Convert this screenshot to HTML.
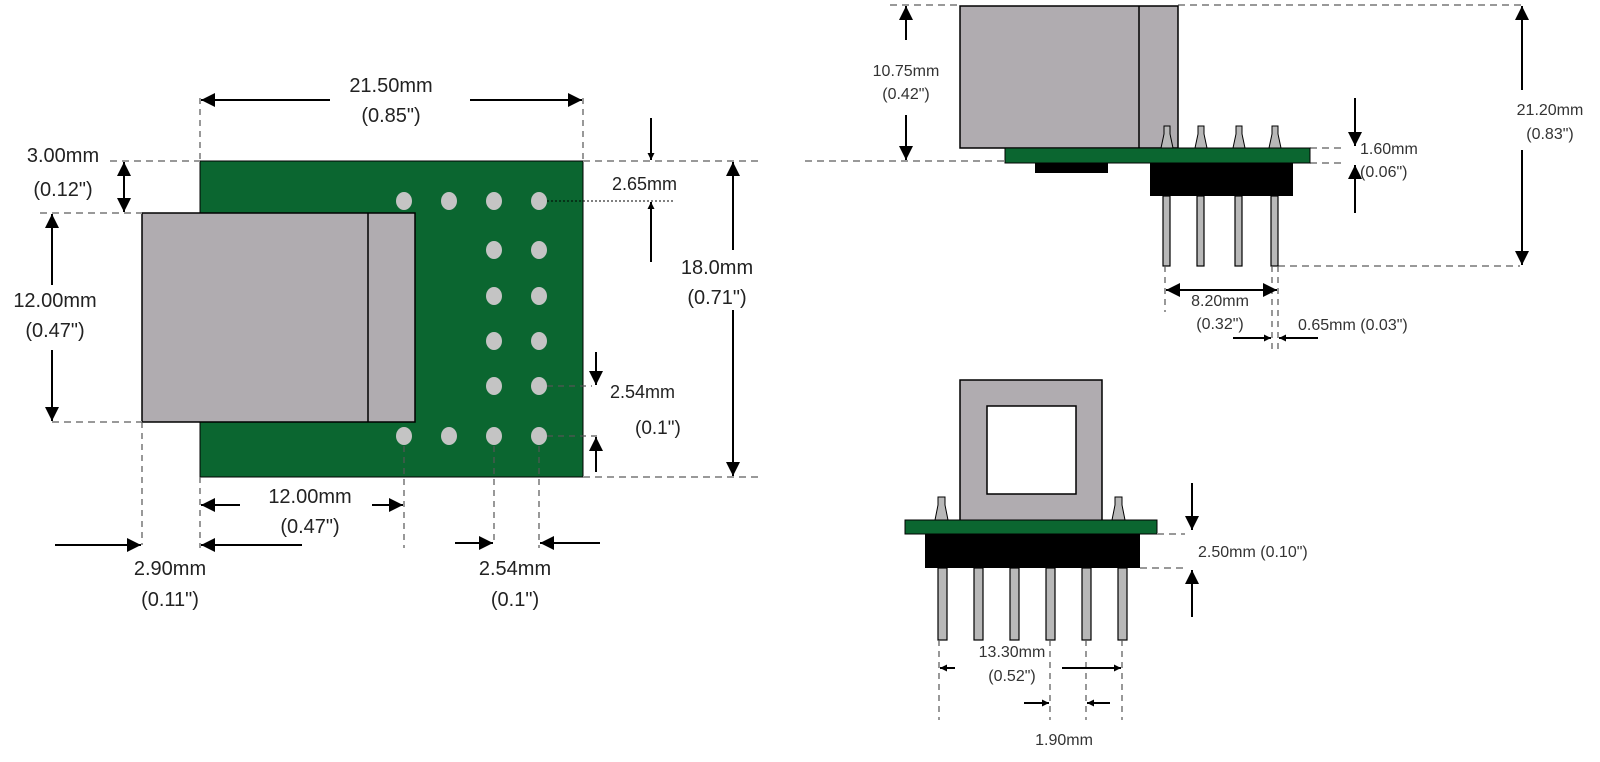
<!DOCTYPE html>
<html><head><meta charset="utf-8"><style>
html,body{margin:0;padding:0;background:#fff;}
svg{display:block;}
text{font-family:"Liberation Sans",Arial,sans-serif;fill:#222;}
.L{font-size:20px;}
.R{font-size:16px;fill:#333;}
.d{stroke:#999;stroke-width:2;stroke-dasharray:7,5;fill:none;}
.dk{stroke:#555;stroke-width:1.2;stroke-dasharray:6,5;fill:none;}
.a{stroke:#000;stroke-width:2;fill:none;}
.pin{fill:#b8b8b8;stroke:#000;stroke-width:1.2;}
</style></head><body>
<svg width="1600" height="762" viewBox="0 0 1600 762" xmlns="http://www.w3.org/2000/svg">
<defs>
<marker id="h" viewBox="0 0 10 10" refX="10" refY="5" markerWidth="7" markerHeight="7" orient="auto-start-reverse" markerUnits="userSpaceOnUse">
<path d="M0,0 L10,5 L0,10 z" fill="#000"/></marker>
<marker id="hb" viewBox="0 0 10 10" refX="10" refY="5" markerWidth="14" markerHeight="14" orient="auto-start-reverse" markerUnits="userSpaceOnUse">
<path d="M0,0 L10,5 L0,10 z" fill="#000"/></marker>
</defs>

<!-- LEFT VIEW -->
<rect x="200" y="161" width="383" height="316" fill="#0b6630" stroke="#000" stroke-width="1"/>
<rect x="142" y="213" width="273" height="209" fill="#b0acb0" stroke="#000" stroke-width="1.5"/>
<line x1="368" y1="213" x2="368" y2="422" stroke="#000" stroke-width="1.5"/>
<g fill="#c4c4c4">
<ellipse cx="404" cy="201" rx="8" ry="9"/><ellipse cx="449" cy="201" rx="8" ry="9"/><ellipse cx="494" cy="201" rx="8" ry="9"/><ellipse cx="539" cy="201" rx="8" ry="9"/>
<ellipse cx="494" cy="250" rx="8" ry="9"/><ellipse cx="539" cy="250" rx="8" ry="9"/>
<ellipse cx="494" cy="296" rx="8" ry="9"/><ellipse cx="539" cy="296" rx="8" ry="9"/>
<ellipse cx="494" cy="341" rx="8" ry="9"/><ellipse cx="539" cy="341" rx="8" ry="9"/>
<ellipse cx="494" cy="386" rx="8" ry="9"/><ellipse cx="539" cy="386" rx="8" ry="9"/>
<ellipse cx="404" cy="436" rx="8" ry="9"/><ellipse cx="449" cy="436" rx="8" ry="9"/><ellipse cx="494" cy="436" rx="8" ry="9"/><ellipse cx="539" cy="436" rx="8" ry="9"/>
</g>
<!-- dashed guides -->
<path class="d" d="M110 161H200 M583 161H760 M40 213H142 M52 422H142 M583 477H760"/>
<path class="dk" d="M200 98V161 M583 98V161 M142 422V545 M200 477V548 M404 446V548 M494 446V540 M539 446V548"/>
<path d="M547 201H675" stroke="#000" stroke-width="1" stroke-dasharray="2,2"/>
<path class="dk" d="M547 386H592 M547 436H600" stroke="#333"/>
<!-- 21.50 -->
<line class="a" x1="330" y1="100" x2="201" y2="100" marker-end="url(#hb)"/>
<line class="a" x1="470" y1="100" x2="582" y2="100" marker-end="url(#hb)"/>
<text class="L" x="391" y="92" text-anchor="middle">21.50mm</text>
<text class="L" x="391" y="122" text-anchor="middle">(0.85")</text>
<!-- 3.00 -->
<line class="a" x1="124" y1="187" x2="124" y2="162" marker-end="url(#hb)"/>
<line class="a" x1="124" y1="187" x2="124" y2="212" marker-end="url(#hb)"/>
<text class="L" x="63" y="162" text-anchor="middle">3.00mm</text>
<text class="L" x="63" y="196" text-anchor="middle">(0.12")</text>
<!-- 12.00 left -->
<line class="a" x1="52" y1="285" x2="52" y2="214" marker-end="url(#hb)"/>
<line class="a" x1="52" y1="350" x2="52" y2="421" marker-end="url(#hb)"/>
<text class="L" x="55" y="307" text-anchor="middle">12.00mm</text>
<text class="L" x="55" y="337" text-anchor="middle">(0.47")</text>
<!-- 2.65 -->
<line class="a" x1="651" y1="118" x2="651" y2="160" marker-end="url(#h)" stroke-width="1.5"/>
<line class="a" x1="651" y1="262" x2="651" y2="202" marker-end="url(#h)" stroke-width="1.5"/>
<text class="L" x="612" y="190" style="font-size:18px">2.65mm</text>
<!-- 18.0 -->
<line class="a" x1="733" y1="250" x2="733" y2="162" marker-end="url(#hb)"/>
<line class="a" x1="733" y1="310" x2="733" y2="476" marker-end="url(#hb)"/>
<text class="L" x="717" y="274" text-anchor="middle">18.0mm</text>
<text class="L" x="717" y="304" text-anchor="middle">(0.71")</text>
<!-- 2.54 right -->
<line class="a" x1="596" y1="352" x2="596" y2="385" marker-end="url(#hb)"/>
<line class="a" x1="596" y1="472" x2="596" y2="437" marker-end="url(#hb)"/>
<text class="L" x="610" y="398" style="font-size:18px">2.54mm</text>
<text class="L" x="635" y="434" style="font-size:19px">(0.1")</text>
<!-- 12.00 bottom -->
<line class="a" x1="240" y1="505" x2="201" y2="505" marker-end="url(#hb)"/>
<line class="a" x1="372" y1="505" x2="403" y2="505" marker-end="url(#hb)"/>
<text class="L" x="310" y="503" text-anchor="middle">12.00mm</text>
<text class="L" x="310" y="533" text-anchor="middle">(0.47")</text>
<!-- 2.90 -->
<line class="a" x1="55" y1="545" x2="141" y2="545" marker-end="url(#hb)"/>
<line class="a" x1="302" y1="545" x2="201" y2="545" marker-end="url(#hb)"/>
<text class="L" x="170" y="575" text-anchor="middle">2.90mm</text>
<text class="L" x="170" y="606" text-anchor="middle">(0.11")</text>
<!-- 2.54 bottom -->
<line class="a" x1="455" y1="543" x2="493" y2="543" marker-end="url(#hb)"/>
<line class="a" x1="600" y1="543" x2="540" y2="543" marker-end="url(#hb)"/>
<text class="L" x="515" y="575" text-anchor="middle">2.54mm</text>
<text class="L" x="515" y="606" text-anchor="middle">(0.1")</text>

<!-- RIGHT TOP VIEW -->
<path class="d" d="M890 5H960 M1178 5H1525 M805 161H1005 M1310 148H1345 M1310 163H1345 M1278 266H1520"/>
<rect x="960" y="6" width="218" height="142" fill="#b0acb0" stroke="#000" stroke-width="1.5"/>
<line x1="1139" y1="6" x2="1139" y2="148" stroke="#000" stroke-width="1.5"/>
<rect x="1005" y="148" width="305" height="15" fill="#0b6630" stroke="#000" stroke-width="1"/>
<rect x="1035" y="163" width="73" height="10" fill="#000"/>
<rect x="1150" y="163" width="143" height="33" fill="#000"/>
<g class="pin">
<rect x="1163" y="196" width="7" height="70"/><rect x="1197" y="196" width="7" height="70"/><rect x="1235" y="196" width="7" height="70"/><rect x="1271" y="196" width="7" height="70"/>
</g>
<g fill="#b8b8b8" stroke="#000" stroke-width="1">
<path d="M1164 126h6v8l3 14h-12l3-14z"/><path d="M1198 126h6v8l3 14h-12l3-14z"/><path d="M1236 126h6v8l3 14h-12l3-14z"/><path d="M1272 126h6v8l3 14h-12l3-14z"/>
</g>
<line class="a" x1="906" y1="40" x2="906" y2="6" marker-end="url(#hb)"/>
<line class="a" x1="906" y1="115" x2="906" y2="160" marker-end="url(#hb)"/>
<text class="R" x="906" y="76" text-anchor="middle">10.75mm</text>
<text class="R" x="906" y="99" text-anchor="middle">(0.42")</text>
<line class="a" x1="1522" y1="90" x2="1522" y2="6" marker-end="url(#hb)"/>
<line class="a" x1="1522" y1="150" x2="1522" y2="265" marker-end="url(#hb)"/>
<text class="R" x="1550" y="115" text-anchor="middle">21.20mm</text>
<text class="R" x="1550" y="139" text-anchor="middle">(0.83")</text>
<line class="a" x1="1355" y1="98" x2="1355" y2="146" marker-end="url(#hb)" stroke-width="1.5"/>
<line class="a" x1="1355" y1="213" x2="1355" y2="165" marker-end="url(#hb)" stroke-width="1.5"/>
<text class="R" x="1360" y="154">1.60mm</text>
<text class="R" x="1360" y="177">(0.06")</text>
<path class="dk" d="M1165 266V312 M1272 266V350 M1278 266V350"/>
<line class="a" x1="1220" y1="290" x2="1166" y2="290" marker-end="url(#hb)"/>
<line class="a" x1="1220" y1="290" x2="1277" y2="290" marker-end="url(#hb)"/>
<text class="R" x="1220" y="306" text-anchor="middle">8.20mm</text>
<text class="R" x="1220" y="329" text-anchor="middle">(0.32")</text>
<line class="a" x1="1233" y1="338" x2="1271" y2="338" marker-end="url(#h)" stroke-width="1.5"/>
<line class="a" x1="1318" y1="338" x2="1279" y2="338" marker-end="url(#h)" stroke-width="1.5"/>
<text class="R" x="1298" y="330">0.65mm (0.03")</text>

<!-- RIGHT BOTTOM VIEW -->
<rect x="960" y="380" width="142" height="141" fill="#b0acb0" stroke="#000" stroke-width="1.5"/>
<rect x="987" y="406" width="89" height="88" fill="#fff" stroke="#000" stroke-width="1.5"/>
<g fill="#b8b8b8" stroke="#000" stroke-width="1">
<path d="M938 497h7v8l3 15h-13l3-15z"/><path d="M1115 497h7v8l3 15h-13l3-15z"/>
</g>
<rect x="905" y="520" width="252" height="14" fill="#0b6630" stroke="#000" stroke-width="1"/>
<rect x="925" y="534" width="215" height="34" fill="#000"/>
<g class="pin">
<rect x="938" y="568" width="9" height="72"/><rect x="974" y="568" width="9" height="72"/><rect x="1010" y="568" width="9" height="72"/><rect x="1046" y="568" width="9" height="72"/><rect x="1082" y="568" width="9" height="72"/><rect x="1118" y="568" width="9" height="72"/>
</g>
<path class="d" d="M1157 534H1185 M1140 568H1185"/>
<line class="a" x1="1192" y1="483" x2="1192" y2="530" marker-end="url(#hb)" stroke-width="1.5"/>
<line class="a" x1="1192" y1="617" x2="1192" y2="570" marker-end="url(#hb)" stroke-width="1.5"/>
<text class="R" x="1198" y="557">2.50mm (0.10")</text>
<path class="dk" d="M939 640V720 M1050 640V720 M1086 640V720 M1122 640V720"/>
<line class="a" x1="955" y1="668" x2="940" y2="668" marker-end="url(#h)" stroke-width="1.5"/>
<line class="a" x1="1062" y1="668" x2="1121" y2="668" marker-end="url(#h)" stroke-width="1.5"/>
<text class="R" x="1012" y="657" text-anchor="middle">13.30mm</text>
<text class="R" x="1012" y="681" text-anchor="middle">(0.52")</text>
<line class="a" x1="1024" y1="703" x2="1049" y2="703" marker-end="url(#h)" stroke-width="1.5"/>
<line class="a" x1="1110" y1="703" x2="1087" y2="703" marker-end="url(#h)" stroke-width="1.5"/>
<text class="R" x="1064" y="745" text-anchor="middle">1.90mm</text>
</svg>
</body></html>
